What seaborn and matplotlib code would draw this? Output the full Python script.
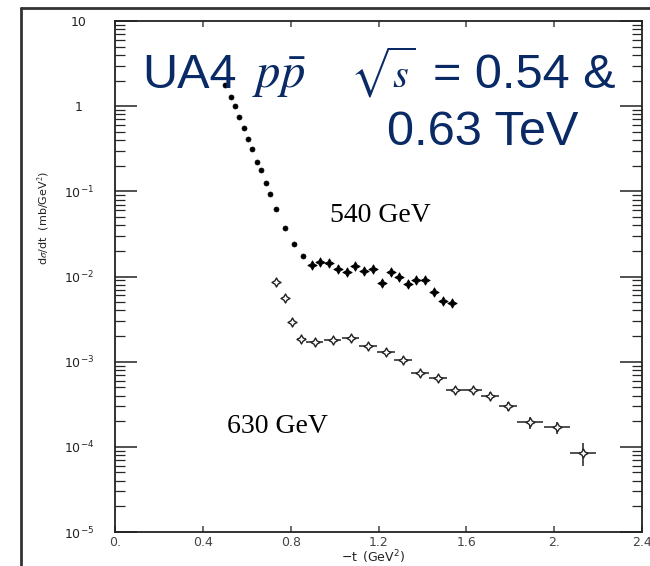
import numpy as np
import pandas as pd
import matplotlib
matplotlib.use("Agg")
import matplotlib.pyplot as plt
import seaborn as sns
from matplotlib.lines import Line2D
from matplotlib.ticker import FixedLocator, FixedFormatter, LogLocator, NullFormatter

# 540 GeV data (filled points)
t_540 = [0.502, 0.530, 0.548, 0.566, 0.589, 0.607, 0.626, 0.648, 0.667, 0.689,
         0.708, 0.735, 0.772, 0.813, 0.854, 0.895, 0.932, 0.973, 1.014, 1.055,
         1.091, 1.132, 1.174, 1.215, 1.256, 1.292, 1.333, 1.370, 1.411, 1.452,
         1.493, 1.534]
sig_540 = [1.76, 1.27, 1.0, 0.74, 0.55, 0.41, 0.31, 0.22, 0.177, 0.125,
           0.092, 0.062, 0.037, 0.024, 0.0173, 0.0136, 0.0147, 0.0143, 0.0122, 0.0112,
           0.0132, 0.0115, 0.0122, 0.0083, 0.0112, 0.0098, 0.0081, 0.0091, 0.0091, 0.0065,
           0.0051, 0.0049]

# 630 GeV data (open points with error bars)
t_630 = [0.735, 0.772, 0.808, 0.849, 0.909, 0.991, 1.073, 1.151, 1.233, 1.311,
         1.388, 1.470, 1.548, 1.630, 1.708, 1.790, 1.890, 2.014, 2.132]
sig_630 = [0.00857, 0.00556, 0.0029, 0.00184, 0.00169, 0.00179, 0.00189, 0.00152, 0.00129, 0.00104,
           0.00073, 0.00064, 0.00046, 0.00046, 0.00040, 0.00030, 0.000195, 0.00017, 0.0000842]
dt_630 = [0, 0, 0, 0.02, 0.04, 0.04, 0.04, 0.04, 0.04, 0.04,
          0.04, 0.04, 0.04, 0.04, 0.04, 0.04, 0.06, 0.06, 0.06]
rel_err_630 = [0.05, 0.05, 0.05, 0.05, 0.05, 0.05, 0.05, 0.06, 0.06, 0.06,
               0.08, 0.08, 0.10, 0.10, 0.10, 0.12, 0.16, 0.16, 0.30]

x_ticks = [0, 0.4, 0.8, 1.2, 1.6, 2.0, 2.4]
x_tick_labels = ["0.", "0.4", "0.8", "1.2", "1.6", "2.", "2.4"]
y_ticks = [1e-5, 1e-4, 1e-3, 1e-2, 1e-1, 1, 10]
y_tick_labels = [r"$\mathdefault{10^{-5}}$", r"$\mathdefault{10^{-4}}$", r"$\mathdefault{10^{-3}}$",
                 r"$\mathdefault{10^{-2}}$", r"$\mathdefault{10^{-1}}$", "1", "10"]

NAVY = "#0a2a66"
INK = "#222222"

sns.set_style("ticks")
plt.rcParams["font.family"] = ["DejaVu Sans"]
plt.rcParams["mathtext.fontset"] = "stix"

W, H = 650, 566
fig = plt.figure(figsize=(W / 100, H / 100), dpi=100)
ax = fig.add_axes([115 / W, 1 - 532 / H, (642 - 115) / W, (532 - 21) / H])

df540 = pd.DataFrame({"t": t_540, "sig": sig_540})
dots = df540[df540["t"] < 0.88]
stars = df540[df540["t"] >= 0.88]
sns.scatterplot(data=dots, x="t", y="sig", ax=ax, marker="o", s=13,
                color="black", edgecolor="black", linewidth=0.5)
sns.scatterplot(data=stars, x="t", y="sig", ax=ax, marker=(4, 1, 0), s=45,
                color="black", edgecolor="black", linewidth=0.6)

sig = np.array(sig_630)
ax.errorbar(t_630, sig, xerr=dt_630, yerr=sig * np.array(rel_err_630),
            fmt="none", ecolor=INK, elinewidth=1.1, capsize=0, zorder=2)
df630 = pd.DataFrame({"t": t_630, "sig": sig_630})
sns.scatterplot(data=df630, x="t", y="sig", ax=ax, marker=(4, 1, 0), s=42,
                facecolor="white", edgecolor=INK, linewidth=1.0, zorder=3)

ax.set_yscale("log")
ax.set_xlim(0, 2.4)
ax.set_ylim(1e-5, 10)

ax.xaxis.set_major_locator(FixedLocator(x_ticks))
ax.xaxis.set_major_formatter(FixedFormatter(x_tick_labels))
ax.yaxis.set_major_locator(FixedLocator(y_ticks))
ax.yaxis.set_major_formatter(FixedFormatter(y_tick_labels))
ax.yaxis.set_minor_locator(LogLocator(base=10, subs=np.arange(2, 10), numticks=20))
ax.yaxis.set_minor_formatter(NullFormatter())

ax.tick_params(axis="y", which="major", direction="in", length=16, width=1.1,
               left=True, right=True, labelsize=9, colors=INK, pad=26)
ax.tick_params(axis="y", which="minor", direction="in", length=7, width=0.9,
               left=True, right=True)
ax.tick_params(axis="x", which="major", direction="in", length=4, width=1.1,
               top=True, bottom=True, labelsize=9, colors="#444444", pad=3)
for lab in ax.get_yticklabels():
    lab.set_horizontalalignment("center")

for s in ax.spines.values():
    s.set_color(INK)
    s.set_linewidth(1.3)

ax.set_xlabel(r"$\mathdefault{-t\ \ (GeV^2)}$", fontsize=9, color=INK)
ax.set_ylabel(r"d$\sigma$/dt  (mb/GeV$^2$)", fontsize=8, color=INK)
ax.xaxis.set_label_coords(0.49, -0.032)
ax.yaxis.set_label_coords(-0.12, 0.615)

ax.text(0.98, 0.0434, "540 GeV", fontsize=20, family="Liberation Serif", color="black")
ax.text(0.511, 1.45e-4, "630 GeV", fontsize=20, family="Liberation Serif", color="black")

# blue overlay title, placed piece by piece
fig.text(142 / W, 1 - 88 / H, "UA4", fontsize=35, family="Liberation Sans",
         color=NAVY, va="baseline")
fig.text(252 / W, 1 - 88 / H, r"$p\bar{p}$", fontsize=35, color=NAVY, va="baseline")
fig.text(350 / W, 1 - 88 / H, r"$\sqrt{s}$", fontsize=29, color=NAVY, va="baseline")
fig.text(433 / W, 1 - 88 / H, "= 0.54 &", fontsize=35, family="Liberation Sans",
         color=NAVY, va="baseline")
fig.text(387 / W, 1 - 145 / H, "0.63 TeV", fontsize=35, family="Liberation Sans",
         color=NAVY, va="baseline")

# scanned page frame
fig.add_artist(Line2D([21 / W, 21 / W], [0, 1 - 8 / H], transform=fig.transFigure,
                      color="#333333", lw=2))
fig.add_artist(Line2D([21 / W, 1], [1 - 8 / H, 1 - 8 / H], transform=fig.transFigure,
                      color="#333333", lw=2))

fig.savefig("out.png", dpi=100)
